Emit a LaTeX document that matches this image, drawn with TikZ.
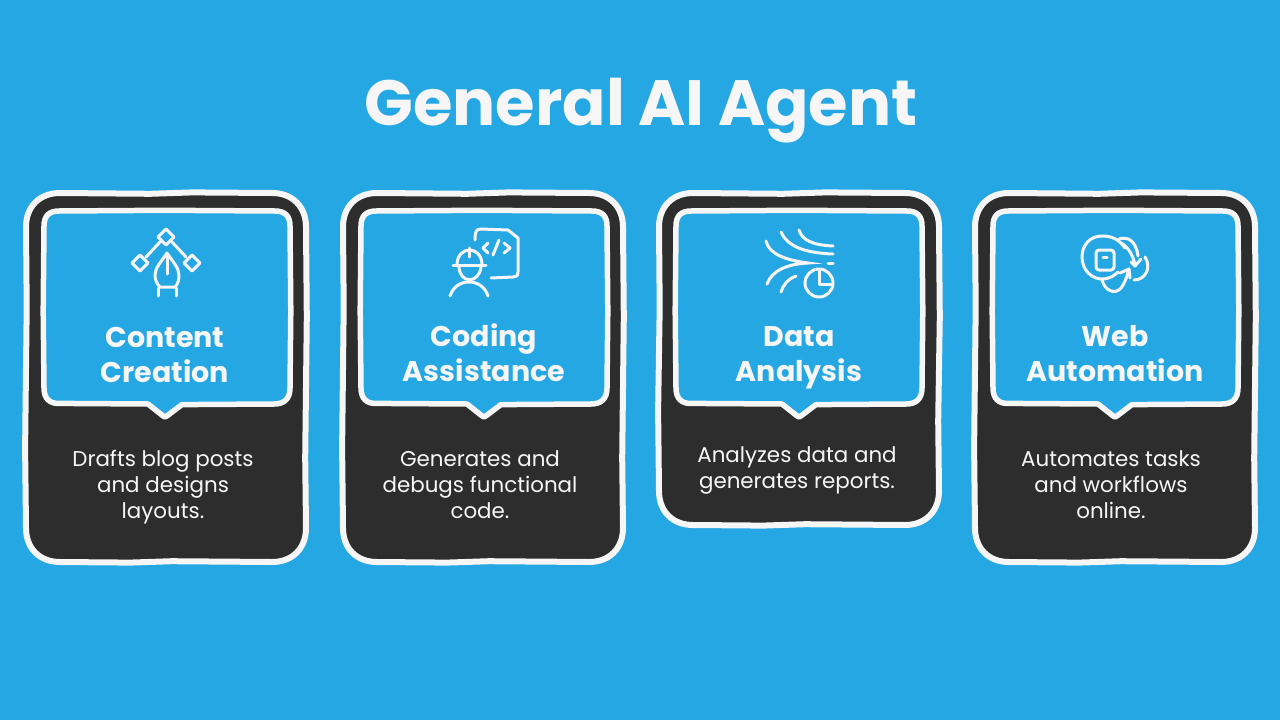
\documentclass[tikz,border=0pt]{standalone}
\usepackage{fontspec}
\setmainfont{Poppins}
\definecolor{skyb}{HTML}{25A7E4}
\definecolor{darkc}{HTML}{2D2D2D}
\definecolor{chalk}{HTML}{F6F6F6}
\tikzset{
  x=1pt,y=-1pt,
  cardbox/.style={draw=chalk,line width=6pt,fill=darkc,line join=round},
  bubble/.style={draw=chalk,line width=5.5pt,fill=skyb,line join=round},
  headtext/.style={text=chalk,align=center,font=\fontsize{28.5}{35}\selectfont\bfseries,inner sep=0pt},
  bodytext/.style={text=chalk,align=center,font=\fontsize{21.4}{26}\selectfont,inner sep=0pt},
  titletext/.style={text=chalk,font=\fontsize{64}{66}\selectfont\bfseries,inner sep=0pt},
  icon/.style={draw=chalk,line width=3pt,line cap=round,line join=round}
}
\newcommand{\roundpath}[5]{% x1 y1 x2 y2 r
  (#1+#5,#2) -- (#1+#5+90,#2+0.8) -- (#3-#5-80,#2-0.6) -- (#3-#5,#2)
  .. controls (#3-#5*0.4,#2) and (#3,#2+#5*0.4) .. (#3,#2+#5)
  -- (#3+0.8,#2+#5+90) -- (#3-0.8,#4-#5-70) -- (#3,#4-#5)
  .. controls (#3,#4-#5*0.4) and (#3-#5*0.4,#4) .. (#3-#5,#4)
  -- (#3-#5-100,#4-0.8) -- (#1+#5+70,#4+0.6) -- (#1+#5,#4)
  .. controls (#1+#5*0.4,#4) and (#1,#4-#5*0.4) .. (#1,#4-#5)
  -- (#1-0.9,#4-#5-80) -- (#1+0.7,#2+#5+80) -- (#1,#2+#5)
  .. controls (#1,#2+#5*0.4) and (#1+#5*0.4,#2) .. (#1+#5,#2) -- cycle
}
\newcommand{\bubblepath}[5]{% x1 y1 x2 y2 tipx
  (#1+15,#2) -- (#1+120,#2-0.7) -- (#3-15,#2)
  .. controls (#3-5,#2) and (#3,#2+5) .. (#3,#2+15)
  -- (#3+0.8,#2+100) -- (#3,#4-16)
  .. controls (#3,#4-5) and (#3-6,#4) .. (#3-16,#4)
  -- (#5+17,#4+0.6) -- (#5+2.5,#4+11.5) .. controls (#5,#4+13.5) .. (#5-2.5,#4+11.5) -- (#5-17,#4)
  -- (#1+16,#4-0.6)
  .. controls (#1+6,#4) and (#1,#4-5) .. (#1,#4-16)
  -- (#1-0.8,#2+100) -- (#1,#2+15)
  .. controls (#1,#2+5) and (#1+5,#2) .. (#1+15,#2) -- cycle
}
\begin{document}
\begin{tikzpicture}
\useasboundingbox (0,0) rectangle (1280,720);
\fill[skyb] (0,0) rectangle (1280,720);
\node[titletext] (title) at (641,111) {General AI Agent};

% cards
\draw[cardbox] \roundpath{26}{193}{306}{562}{34};
\draw[bubble] \bubblepath{44}{211}{290}{404}{165};
\draw[cardbox] \roundpath{343}{193}{623}{562}{34};
\draw[bubble] \bubblepath{361}{211}{607}{404}{484};
\draw[cardbox] \roundpath{659}{193}{939}{525}{34};
\draw[bubble] \bubblepath{676}{211}{922}{404}{799};
\draw[cardbox] \roundpath{975}{193}{1255}{562}{34};
\draw[bubble] \bubblepath{993}{211}{1238}{404}{1115};

% headings
\node[headtext] (h1) at (165,355) {Content\\Creation};
\node[headtext] (h2) at (484,353) {Coding\\Assistance};
\node[headtext] (h3) at (799,358) {Data\\Analysis};
\node[headtext] (h4) at (1115,353.5) {Web\\Automation};
% bodies
\node[bodytext] (b1) at (163,487) {Drafts blog posts\\and designs\\layouts.};
\node[bodytext] (b2) at (480,485) {Generates and\\debugs functional\\code.};
\node[bodytext] (b3) at (797,470) {Analyzes data and\\generates reports.};
\node[bodytext] (b4) at (1111,485) {Automates tasks\\and workflows\\online.};

% icon 1: pen tool
\draw[icon] (166,229) -- (174,237) -- (166,245) -- (158,237) -- cycle;
\draw[icon] (140,255) -- (148,263) -- (140,271) -- (132,263) -- cycle;
\draw[icon] (192,255) -- (200,263) -- (192,271) -- (184,263) -- cycle;
\draw[icon] (160,242) -- (146,257) (172,242) -- (186,257);
\draw[icon] (167,253) .. controls (161,262) and (155,268) .. (155,275)
  .. controls (155,280) and (157,284) .. (160,287) -- (175,287)
  .. controls (178,284) and (179,280) .. (179,275)
  .. controls (179,268) and (173,262) .. (167,253) -- cycle;
\draw[icon] (167,254) -- (167,274);
\draw[icon] (158,296) -- (158,288) (176,288) -- (176,296);

% icon 2: coder
\draw[icon] (475,240) .. controls (475,232) and (476,229) .. (481,229) -- (508,230) -- (518,238) -- (518,272)
  .. controls (518,276) and (516,277) .. (513,277) -- (491,278);
\draw[icon] (488,243) -- (483,248) -- (488,253) (499,240) -- (493,255) (504,243) -- (510,248) -- (504,253);
\draw[icon] (457,265) .. controls (457,245) and (482,245) .. (482,265);
\draw[icon] (453,265) -- (486,265) (469,248) -- (469,257);
\draw[icon] (459,267) .. controls (460,284) and (479,284) .. (481,267);
\draw[icon] (450,296) .. controls (453,287) and (460,282) .. (469,282) .. controls (478,282) and (485,287) .. (488,296);

% icon 3: data flow
\draw[icon] (799,230) .. controls (802,240) and (812,245) .. (833,246);
\draw[icon] (781,232) .. controls (787,246) and (804,253) .. (833,254);
\draw[icon,line join=miter] (766,241) .. controls (769,254) and (785,260) .. (808,263)
  .. controls (788,264) and (772,270) .. (767,284);
\draw[icon] (796,276) .. controls (788,279) and (783,285) .. (781,292);
\draw[icon] (828,263) -- (833,263);
\draw[icon] (819,283) circle[radius=14];
\draw[icon] (819,271) -- (819,284) -- (831,284);

% icon 4: web automation
\draw[icon] (1125,248) .. controls (1118,238) and (1110,236) .. (1102,236)
  .. controls (1090,236) and (1082,245) .. (1082,257)
  .. controls (1082,270) and (1092,280) .. (1104,279) .. controls (1110,278) and (1114,276) .. (1118,272);
\draw[icon,rounded corners=3pt] (1096,250) rectangle (1114,270);
\draw[icon] (1103,257) -- (1107,257);
\draw[icon] (1119,239) .. controls (1128,236) and (1136,241) .. (1138,256);
\draw[icon] (1121,243) .. controls (1128,247) and (1133,255) .. (1135,265);
\draw[icon] (1131,262) -- (1135,266) -- (1141,259);
\draw[icon] (1145,257) .. controls (1152,268) and (1145,280) .. (1134,280);
\draw[icon] (1102,280) .. controls (1105,291) and (1115,295) .. (1121,288) .. controls (1125,283) and (1127,276) .. (1129,269);
\draw[icon] (1120,273) -- (1129,269) -- (1130,278);
\end{tikzpicture}
\end{document}
